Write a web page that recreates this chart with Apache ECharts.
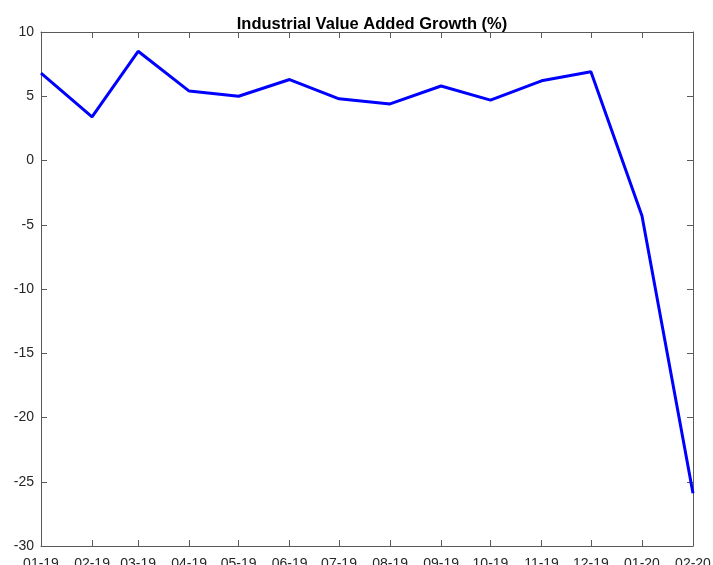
<!DOCTYPE html>
<html>
<head>
<meta charset="utf-8">
<script src="https://cdn.jsdelivr.net/npm/echarts@6/dist/echarts.min.js"></script>
<style>
    html, body { margin: 0; padding: 0; background: #fff; }
    #myChart { width: 713px; height: 565px; }
</style>
</head>
<body>
<div id="myChart"></div>
<script>
    // monthly observations (first of month)
    var months = ['2019-01-01', '2019-02-01', '2019-03-01', '2019-04-01', '2019-05-01', '2019-06-01', '2019-07-01',
        '2019-08-01', '2019-09-01', '2019-10-01', '2019-11-01', '2019-12-01', '2020-01-01', '2020-02-01'];
    var tickLabels = ['01-19', '02-19', '03-19', '04-19', '05-19', '06-19', '07-19',
        '08-19', '09-19', '10-19', '11-19', '12-19', '01-20', '02-20'];
    var growth = [6.8, 3.4, 8.5, 5.4, 5.0, 6.3, 4.8, 4.4, 5.8, 4.7, 6.2, 6.9, -4.3, -25.9];
    var yTicks = [-30, -25, -20, -15, -10, -5, 0, 5, 10];

    var monthTimes = months.map(function (m) { return +new Date(m + 'T00:00:00'); });

    function monthLabel(val) {
        // nearest month start -> label
        var best = 0
        for (var i = 0; i < monthTimes.length; i++) {
            if (Math.abs(monthTimes[i] - val) < Math.abs(monthTimes[best] - val)) best = i
        }
        return tickLabels[best]
    }

    var axisColor = '#5a5a5a';
    var fontFamily = '"Liberation Sans", Arial, Helvetica, sans-serif';
    var DAY = 86400000;

    function xAxisOpt(pos, showLabel) {
        return {
            type: 'time',
            position: pos,
            min: monthTimes[0],
            max: monthTimes[monthTimes.length - 1],
            minInterval: 28 * DAY,
            maxInterval: 31 * DAY,
            splitLine: { show: false },
            axisLine: { show: true, onZero: false, lineStyle: { color: axisColor, width: 1 } },
            axisTick: { show: true, inside: true, length: 6, lineStyle: { color: axisColor } },
            axisLabel: {
                show: showLabel,
                hideOverlap: false,
                showMinLabel: true,
                showMaxLabel: true,
                margin: 11,
                color: '#262626',
                fontSize: 14,
                fontFamily: fontFamily,
                formatter: function (val) { return monthLabel(val) }
            }
        }
    }

    function yAxisOpt(pos, showLabel) {
        return {
            type: 'value',
            position: pos,
            min: yTicks[0],
            max: yTicks[yTicks.length - 1],
            interval: 5,
            splitLine: { show: false },
            axisLine: { show: true, onZero: false, lineStyle: { color: axisColor, width: 1 } },
            axisTick: { show: true, inside: true, length: 6, lineStyle: { color: axisColor } },
            axisLabel: {
                show: showLabel,
                margin: 7,
                color: '#262626',
                fontSize: 14,
                fontFamily: fontFamily
            }
        }
    }

    var myChart = echarts.init(document.getElementById('myChart'), null, { renderer: 'canvas' });

    myChart.setOption({
        backgroundColor: '#ffffff',
        animation: false,
        title: {
            text: 'Industrial Value Added Growth (%)',
            left: 367,
            textAlign: 'center',
            top: 11,
            textStyle: {
                color: '#000',
                fontSize: 16.5,
                fontWeight: 'bold',
                fontFamily: fontFamily
            }
        },
        grid: { left: 41, right: 20, top: 32, bottom: 19, containLabel: false, outerBoundsMode: 'none' },
        xAxis: [xAxisOpt('bottom', true), xAxisOpt('top', false)],
        yAxis: [yAxisOpt('left', true), yAxisOpt('right', false)],
        series: [
            {
                type: 'line',
                data: monthTimes.map(function (t, i) { return [t, growth[i]] }),
                showSymbol: false,
                symbol: 'none',
                lineStyle: { color: '#0000ff', width: 3 },
                itemStyle: { color: '#0000ff' }
            }
        ]
    });
</script>
</body>
</html>
